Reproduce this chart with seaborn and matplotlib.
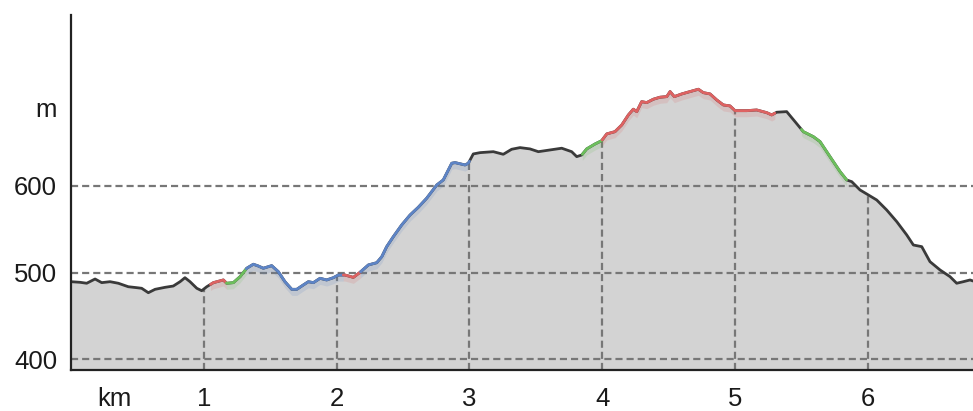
import numpy as np
import pandas as pd
import matplotlib
matplotlib.use("Agg")
import matplotlib.pyplot as plt
import seaborn as sns

# ---- data (distance in km, elevation in m) ----
km = [0.0, 0.068, 0.118, 0.181, 0.231, 0.294, 0.356, 0.431, 0.495, 0.532,
      0.582, 0.633, 0.708, 0.770, 0.821, 0.858, 0.896, 0.947, 0.984, 1.022,
      1.072, 1.147, 1.172, 1.222, 1.273, 1.323, 1.373, 1.410, 1.448, 1.511,
      1.561, 1.611, 1.662, 1.700, 1.749, 1.787, 1.825, 1.875, 1.925, 1.975,
      2.013, 2.063, 2.126, 2.176, 2.239, 2.302, 2.340, 2.377, 2.427, 2.490,
      2.553, 2.615, 2.678, 2.754, 2.803, 2.867, 2.892, 2.967, 2.992, 3.029,
      3.080, 3.180, 3.255, 3.318, 3.381, 3.456, 3.519, 3.607, 3.695, 3.770,
      3.808, 3.846, 3.883, 3.946, 3.996, 4.034, 4.096, 4.147, 4.197, 4.234,
      4.260, 4.297, 4.335, 4.385, 4.435, 4.486, 4.511, 4.543, 4.599, 4.661,
      4.724, 4.761, 4.812, 4.862, 4.912, 4.962, 5.000, 5.088, 5.163, 5.239,
      5.276, 5.314, 5.389, 5.452, 5.514, 5.590, 5.640, 5.715, 5.791, 5.841,
      5.879, 5.941, 6.004, 6.067, 6.142, 6.218, 6.293, 6.343, 6.406, 6.468,
      6.544, 6.619, 6.669, 6.719, 6.770, 6.792]
elev = [489.5, 488.8, 487.7, 492.6, 488.4, 489.5, 487.7, 483.7, 482.6, 481.9,
        476.8, 480.7, 483.0, 484.5, 489.5, 494.1, 489.5, 481.9, 479.1, 483.7,
        488.4, 491.5, 487.7, 488.4, 495.3, 505.0, 509.6, 507.6, 505.0, 508.0,
        501.0, 489.5, 480.7, 480.7, 485.7, 489.5, 488.4, 493.4, 491.5, 494.1,
        497.2, 497.2, 494.5, 500.3, 508.8, 511.4, 518.3, 529.9, 541.4, 554.9,
        566.4, 575.3, 585.7, 601.0, 606.8, 626.1, 626.8, 624.1, 626.1, 636.8,
        638.3, 639.4, 636.4, 642.2, 644.1, 642.6, 639.4, 641.4, 643.4, 639.4,
        633.7, 635.6, 642.6, 648.3, 652.1, 659.9, 662.5, 670.2, 681.8, 688.4,
        685.6, 697.1, 696.0, 699.9, 702.2, 702.9, 708.7, 702.9, 706.0, 708.7,
        711.4, 707.5, 706.0, 699.1, 693.3, 692.2, 686.7, 686.7, 687.5, 684.4,
        681.8, 684.9, 685.6, 674.0, 662.5, 656.7, 651.0, 633.7, 616.4, 606.8,
        604.8, 595.3, 589.5, 583.7, 572.2, 558.7, 543.4, 531.8, 529.9, 512.6,
        503.0, 495.3, 487.7, 489.5, 491.5, 490.3]

# slope-colour segments (km boundaries) and their colours
seg_bounds = [0.0, 1.05, 1.17, 1.32, 2.05, 2.18, 3.0, 3.85, 4.0, 5.3, 5.5, 5.84, 6.792]
seg_kind = ["flat", "up", "down", "gentle", "up", "gentle", "flat", "down",
            "up", "flat", "down", "flat"]
kind_colors = {"flat": "#3a3a3a", "up": "#de6262", "down": "#6cbf5c", "gentle": "#5d84c6"}

x_ticks = [0.33, 1, 2, 3, 4, 5, 6]
x_labels = ["km", "1", "2", "3", "4", "5", "6"]
y_ticks = [400, 500, 600, 690]
y_labels = ["400", "500", "600", "m"]
grid_y = [400, 500, 600]
grid_x = [1, 2, 3, 4, 5, 6]

# ---- plotting ----
sns.set_theme(style="white")
plt.rcParams["font.family"] = ["Liberation Sans", "DejaVu Sans"]

df = pd.DataFrame({"km": km, "elev": elev})
x = np.asarray(km)
y = np.asarray(elev)

fig = plt.figure(figsize=(9.73, 4.11), dpi=100)
ax = fig.add_axes([0.073, 0.0998, 0.927, 0.8637])

ymin, ymax = 387.7, 797
ax.set_xlim(0, x[-1])
ax.set_ylim(ymin, ymax)

ax.fill_between(x, ymin, y, color="#d3d3d3", zorder=1, linewidth=0)

grid_kw = dict(color="#777777", linewidth=1.6, dashes=(3.2, 1.8))
for g in grid_y:
    ax.axhline(g, zorder=2, **grid_kw)
for g in grid_x:
    top = np.interp(g, x, y)
    ax.plot([g, g], [ymin, top], zorder=2, **grid_kw)

# base dark line
sns.lineplot(data=df, x="km", y="elev", ax=ax, color=kind_colors["flat"],
             linewidth=2.0, zorder=4, sort=False, estimator=None)

# coloured segments
for a, b, k in zip(seg_bounds[:-1], seg_bounds[1:], seg_kind):
    if k == "flat":
        continue
    mask = (x > a) & (x < b)
    sx = np.concatenate([[a], x[mask], [b]])
    sy = np.concatenate([[np.interp(a, x, y)], y[mask], [np.interp(b, x, y)]])
    c = kind_colors[k]
    # soft tint below the line
    ax.fill_between(sx, sy - 7, sy, color=c, alpha=0.16, linewidth=0, zorder=3)
    sns.lineplot(x=sx, y=sy, ax=ax, color=c, linewidth=2.0, zorder=5,
                 sort=False, estimator=None)

ax.set_xlabel("")
ax.set_ylabel("")
ax.set_xticks(x_ticks)
ax.set_xticklabels(x_labels)
ax.set_yticks(y_ticks)
ax.set_yticklabels(y_labels)
ax.tick_params(axis="both", length=0, labelsize=18.5, colors="#1a1a1a")
ax.tick_params(axis="x", pad=12)
ax.tick_params(axis="y", pad=10)

for s in ["top", "right"]:
    ax.spines[s].set_visible(False)
for s in ["left", "bottom"]:
    ax.spines[s].set_color("#222222")
    ax.spines[s].set_linewidth(1.6)
    ax.spines[s].set_zorder(6)

fig.savefig("out.png", dpi=100)
